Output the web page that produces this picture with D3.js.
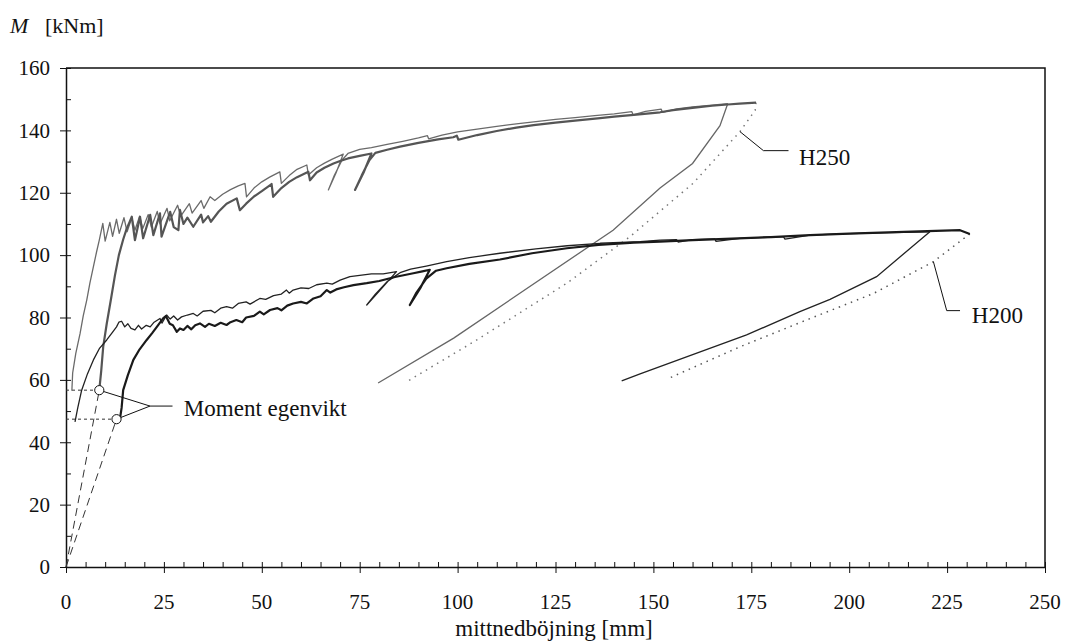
<!DOCTYPE html>
<html><head><meta charset="utf-8">
<script src="https://cdn.jsdelivr.net/npm/d3@7"></script>
<style>
body{margin:0;background:#fff;}
text{font-family:"Liberation Serif","Times New Roman",serif;fill:#111;}
</style></head>
<body><svg id="c" width="1066" height="643"></svg>
<script>
// ---- data (deflection mm, moment kNm) ----
const xTicks = [0,25,50,75,100,125,150,175,200,225,250];
const yTicks = [0,20,40,60,80,100,120,140,160];

// H250 test 1 (thin grey) loading curve
const h250a = [[1.5,56.5],[1.7,62.2],[2.5,68.5],[3.6,74.9],[4.4,80.5],[5.3,85.6],[6.1,91],[7,96.3],[7.8,101],[8.5,104.8],[9.4,110.2],[10,104.5],[11.2,110.5],[11.9,106],[12.9,111.5],[13.6,107],[14.8,112],[15.6,107.5],[16.8,112],[17.6,108],[18.8,112.5],[19.6,108.5],[21,113],[21.8,109],[23.3,114],[24,110],[25.8,115],[26.5,111],[28.5,116],[29.3,112.5],[31.5,116.5],[32.2,113.5],[34.5,117.5],[35.2,115],[36.8,118.7],[38,117.5],[40,119.5],[42,121],[44,122.2],[45.7,123],[46.1,118.7],[48,121.5],[50,123.5],[52,125],[54.6,126.7],[55,123],[57,125.5],[59,127.5],[61.5,128.9],[61.9,125.7],[64,128],[66,129.5],[68,130.8],[70.8,132.4],[69,126.5],[67,120.9],[68.5,125.5],[70.5,130.5],[72,132.6],[75,133.9],[78,134.5],[82,135.5],[86,136.5],[90,137.6],[92.3,138.3],[92.6,137.3],[96,138.5],[100,139.5],[105,140.4],[110,141.3],[115,142.1],[120,142.8],[125,143.5],[130,144.1],[135,144.7],[140,145.3],[144.5,146],[144.8,145],[148,146.1],[152,146.8],[152.3,145.8],[156,146.9],[160,147.5],[165,148.1],[169,148.6]];
const h250aUnload = [[169,148.6],[167,141.5],[160,129.4],[151.7,121.5],[139.7,108],[99,73.4],[79.7,59]];

// H250 test 2 (thick grey) loading curve
const h250b = [[8.5,56.7],[9,63],[9.5,70.6],[10.4,78],[11.5,86],[12.5,93.5],[13.5,100],[14.6,105],[15.5,108.5],[16.2,110.5],[16.8,112.3],[17.6,104.8],[18.9,112.3],[19.7,105.4],[21.5,112.9],[22.3,106.4],[24,113.4],[24.4,105.9],[26.6,113.9],[27.5,109],[28.7,108],[29.1,114.5],[30,110],[31,112],[32.5,109.1],[34.5,113],[35,110.5],[36.3,112.5],[37,110.7],[39,114],[41,116.5],[43.6,118.2],[44.4,114.4],[46,116.5],[48,118.8],[50,120.5],[52.5,122.8],[52.9,118.7],[55,121.5],[57,123.5],[59,125],[61.9,126.7],[62.3,124],[64,126.5],[66,128],[68.3,129.4],[70,130.2],[72,131],[75,131.8],[78,132.6],[76,126.5],[73.8,120.9],[75.5,125.5],[77.5,130.5],[79,132.8],[82,133.8],[85.3,134.8],[90,136],[95,137.1],[98.9,137.8],[99.8,138.3],[100.2,137],[105,138.5],[110,139.8],[115,140.9],[119.4,141.7],[125,142.5],[130,143.1],[136.4,143.9],[140,144.4],[145,145],[151.7,145.8],[155,146.5],[160,147.2],[165,147.9],[169,148.3],[172,148.6],[176.2,148.9]];
const h250bUnload = [[176.2,148.9],[176,146.5],[172.1,139.6],[160.2,123.1],[144,105.9],[127.9,91],[104.9,72.8],[87,59.4]];

// H200 test 1 (thin black) loading curve
const h200a = [[2.3,46.5],[3,51],[4,56.7],[5.5,62],[7,66.4],[8.5,70],[10.4,72.8],[12,75.5],[12.9,77],[13.5,78.5],[14.2,78.8],[15,77],[15.8,78],[16.6,76.5],[17.6,76],[18.5,77.5],[19.3,76.3],[20.5,77.5],[21.5,77],[22.5,78.5],[24,79.7],[24.5,78.2],[25.7,80.8],[26.6,79.5],[27.5,80.5],[28.5,79.2],[29.5,80.2],[31,80.8],[32.5,81.3],[33.5,80.5],[35,82],[37,82.3],[38,81.5],[39.5,83],[41,83.5],[42.5,83],[44,84.5],[46,85],[47,84.3],[49.5,86.1],[51,85.8],[53,87],[55,87.5],[56.3,88.8],[57,87.8],[58,88.8],[60,89.5],[62,89.3],[64,90.5],[66.6,91],[68,90.7],[70,92],[72.5,93.1],[75,93.5],[78,94],[81,94],[84.4,94.7],[80,88.5],[76.8,84],[79,87.5],[82,91.5],[85.5,94.5],[88,95.5],[92,96.5],[97.2,97.9],[103,99.2],[110.8,100.6],[120,102],[128,103],[136.4,103.8],[146.6,104.3],[151.7,104.8],[155.9,105],[156.3,104.2],[160,105],[165.7,105.2],[166,104.4],[172.1,105.4],[183.2,105.9],[183.6,105.1],[190,106.4],[197.7,106.8],[210,107.2],[220.6,107.5]];
const h200aUnload = [[220.6,107.5],[207,93.1],[195.1,85.8],[187.4,81.9],[173.8,74.4],[146.6,61.9],[141.9,59.7]];

// H200 test 2 (thick black) loading curve
const h200b = [[13.8,47.7],[14.2,51],[14.6,56.7],[15.8,61.5],[17.2,66.4],[18.8,69.8],[20.6,72.8],[22,75],[23.2,77],[24.8,79.7],[25.5,80.5],[26.5,78],[27.3,77.5],[28.3,75.4],[29.1,76.5],[30,76],[31,77.3],[32,76.2],[33,77.5],[34.2,78.1],[35.5,77],[36.5,78],[38,77.3],[39.5,78.3],[41,77.6],[42,78.5],[43.5,79.2],[45,78.5],[46,80],[48,80.5],[49.5,81.9],[50.5,81],[52.1,82.4],[54,83],[55,82.3],[56.5,83.8],[58,84.5],[60,85],[61.5,84.5],[63.2,86.1],[65,86.8],[66.6,88.8],[67.5,88],[69,89],[71,89.7],[73.4,90.4],[76.8,91],[80,91.7],[84,93],[88.7,94.2],[91,94.8],[92.9,95.3],[90.5,89.5],[87.8,84],[89.5,88],[92,92.5],[94.5,95],[97.2,95.8],[103,97.2],[110.8,98.6],[119,100.6],[127.9,102.2],[136,103.3],[145,104],[151.7,104.3],[160,104.8],[170,105.3],[180,105.8],[190,106.4],[200,106.9],[210,107.3],[220,107.7],[228.3,108],[230.8,106.8]];
const h200bUnload = [[230.8,106.8],[221.5,97.9],[206.2,87.7],[189.1,79.2],[172.1,70.6],[153.4,60.2]];

// self-weight moment construction
const selfWeightPts = [[8.5,56.7],[12.9,47.4]];

// annotations
const labels = [
  {text:"H250", leader:[[172.1,139.6],[178.1,133.5],[184.5,133.5]], pos:[187.2,128.9]},
  {text:"H200", leader:[[221.5,97.9],[224.9,82.2],[228.3,82.2]], pos:[231.3,78.3]}
];
const momentLabel = {text:"Moment egenvikt", junction:[21.45,51.6], end:[27.2,51.6], pos:[30.1,48.4]};

// ---- drawing ----
const svg = d3.select("#c");
const L=66,R=1045,T=68,B=567;
const x = d3.scaleLinear().domain([0,250]).range([L,R]);
const y = d3.scaleLinear().domain([0,160]).range([B,T]);
const line = d3.line().x(d=>x(d[0])).y(d=>y(d[1]));

// frame
svg.append("path").attr("d",`M${L},${T}H${R}V${B}`).attr("fill","none").attr("stroke","#111").attr("stroke-width",1.5);

// x axis
const xa = svg.append("g").attr("transform",`translate(0,${B})`)
  .call(d3.axisBottom(x).tickValues(d3.range(0,251,5)).tickSize(0).tickFormat(""));
xa.select(".domain").attr("stroke","#111").attr("stroke-width",1.5);
xa.selectAll(".tick line").remove();
xa.selectAll(".tick").append("line").attr("stroke","#111").attr("stroke-width",1)
  .attr("y1",d=>d%25===0?6:0).attr("y2",-5);
svg.append("g").selectAll("text").data(xTicks).join("text")
  .attr("x",d=>x(d)).attr("y",609).attr("text-anchor","middle").attr("font-size",21).text(d=>d);
svg.append("text").attr("x",554).attr("y",636).attr("text-anchor","middle").attr("font-size",23).text("mittnedböjning [mm]");

// y axis
const ya = svg.append("g").attr("transform",`translate(${L},0)`)
  .call(d3.axisLeft(y).tickValues(d3.range(0,161,10)).tickSize(0).tickFormat(""));
ya.select(".domain").attr("stroke","#111").attr("stroke-width",1.5);
ya.selectAll(".tick line").remove();
ya.selectAll(".tick").append("line").attr("stroke","#111").attr("stroke-width",1)
  .attr("x1",d=>d%20===0?-6:0).attr("x2",5);
svg.append("g").selectAll("text").data(yTicks).join("text")
  .attr("x",50).attr("y",d=>y(d)).attr("dy","0.35em").attr("text-anchor","end").attr("font-size",21).text(d=>d);
const yl = svg.append("text").attr("x",10).attr("y",33).attr("font-size",22);
yl.append("tspan").attr("font-style","italic").text("M");
yl.append("tspan").attr("x",45).text("[kNm]");

// self-weight construction lines
const g0 = svg.append("g");
selfWeightPts.forEach(p=>{
  g0.append("path").attr("d",line([[0,0],p])).attr("fill","none").attr("stroke","#333").attr("stroke-width",1).attr("stroke-dasharray","8,5");
  g0.append("path").attr("d",line([[0,p[1]],p])).attr("fill","none").attr("stroke","#333").attr("stroke-width",1).attr("stroke-dasharray","3,3");
});

// unloading lines
svg.append("path").attr("d",line(h250aUnload)).attr("fill","none").attr("stroke","#666").attr("stroke-width",1.3);
svg.append("path").attr("d",line(h250bUnload)).attr("fill","none").attr("stroke","#777").attr("stroke-width",1.5).attr("stroke-dasharray","1.5,5");
svg.append("path").attr("d",line(h200aUnload)).attr("fill","none").attr("stroke","#222").attr("stroke-width",1.3);
svg.append("path").attr("d",line(h200bUnload)).attr("fill","none").attr("stroke","#555").attr("stroke-width",1.5).attr("stroke-dasharray","1.5,5");

// loading curves
svg.append("path").attr("d",line(h250a)).attr("fill","none").attr("stroke","#6a6a6a").attr("stroke-width",1.3).attr("stroke-linejoin","round");
svg.append("path").attr("d",line(h250b)).attr("fill","none").attr("stroke","#555").attr("stroke-width",2.2).attr("stroke-linejoin","round");
svg.append("path").attr("d",line(h200a)).attr("fill","none").attr("stroke","#222").attr("stroke-width",1.3).attr("stroke-linejoin","round");
svg.append("path").attr("d",line(h200b)).attr("fill","none").attr("stroke","#1a1a1a").attr("stroke-width",2.2).attr("stroke-linejoin","round");

// moment egenvikt annotation
const r=4.6;
selfWeightPts.forEach(p=>{
  const jx=x(momentLabel.junction[0]), jy=y(momentLabel.junction[1]);
  const cx=x(p[0]), cy=y(p[1]);
  const dx=cx-jx, dy=cy-jy, len=Math.hypot(dx,dy);
  svg.append("line").attr("x1",jx).attr("y1",jy).attr("x2",cx-dx/len*r).attr("y2",cy-dy/len*r).attr("stroke","#111").attr("stroke-width",1);
});
svg.append("path").attr("d",line([momentLabel.junction,momentLabel.end])).attr("stroke","#111").attr("stroke-width",1).attr("fill","none");
svg.selectAll("circle.sw").data(selfWeightPts).join("circle").attr("class","sw")
  .attr("cx",d=>x(d[0])).attr("cy",d=>y(d[1])).attr("r",r).attr("fill","#fff").attr("stroke","#111").attr("stroke-width",1);
svg.append("text").attr("x",x(momentLabel.pos[0])).attr("y",y(momentLabel.pos[1])).attr("font-size",23).text(momentLabel.text);

// H labels
labels.forEach(l=>{
  svg.append("path").attr("d",line(l.leader)).attr("fill","none").attr("stroke","#111").attr("stroke-width",1);
  svg.append("text").attr("x",x(l.pos[0])).attr("y",y(l.pos[1])).attr("font-size",23).text(l.text);
});
</script></body></html>
